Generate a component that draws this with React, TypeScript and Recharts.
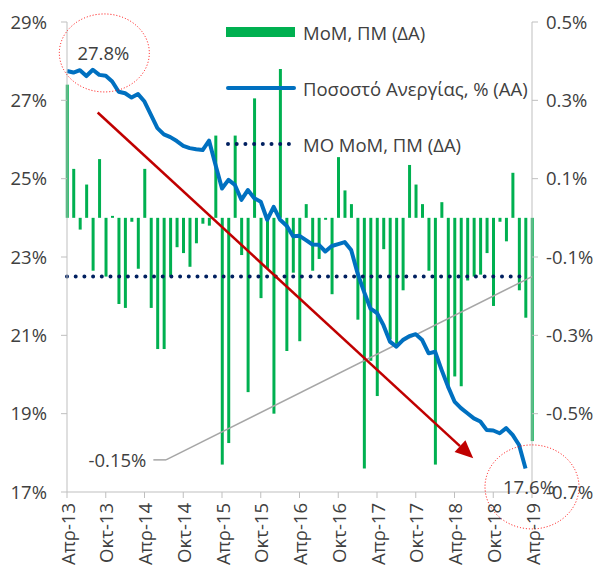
import React from "react";
import {
  ComposedChart,
  Bar,
  Line,
  XAxis,
  YAxis,
  ReferenceLine,
  ReferenceDot,
  Legend,
} from "recharts";

const FONT = "'Open Sans', sans-serif";
const FS = 18.5;
const TEXT = "#404040";
const GREEN = "#00b050";
const BLUE = "#0070c0";
const NAVY = "#002060";

// x axis labels, one every 6 months
const TICK_LABELS = [
  "Απρ-13", "Οκτ-13", "Απρ-14", "Οκτ-14", "Απρ-15", "Οκτ-15", "Απρ-16",
  "Οκτ-16", "Απρ-17", "Οκτ-17", "Απρ-18", "Οκτ-18", "Απρ-19",
];

// MoM change, pp (right axis), Apr-13 .. Apr-19
const MOM = [
  0.34, 0.125, -0.03, 0.085, -0.135, 0.15, -0.15, 0.005, -0.22, -0.23, -0.01, -0.13,
  0.125, -0.23, -0.335, -0.335, -0.15, -0.075, -0.09, -0.125, -0.065, -0.015, -0.02, 0.21,
  -0.63, -0.575, 0.21, -0.095, -0.445, 0.305, -0.205, -0.13, -0.5, 0.38, -0.34, -0.14,
  -0.315, 0.035, -0.135, -0.105, -0.005, -0.195, 0.155, 0.07, 0.035, -0.26, -0.64, -0.365,
  -0.455, -0.08, -0.31, -0.33, -0.185, 0.135, 0.085, 0.035, -0.135, -0.63, 0.04, -0.435,
  -0.405, -0.43, -0.16, -0.15, -0.145, -0.09, -0.225, -0.01, -0.06, 0.115, -0.185, -0.255,
  -0.57,
];

// unemployment rate, % (left axis)
const RATE = [
  27.75, 27.71, 27.77, 27.62, 27.78, 27.65, 27.63, 27.48, 27.22, 27.18, 27.07, 27.16,
  26.97, 26.63, 26.29, 26.13, 26.06, 25.96, 25.84, 25.78, 25.75, 25.73, 25.97, 25.35,
  24.75, 24.97, 24.84, 24.46, 24.71, 24.5, 24.41, 23.95, 24.28, 23.95, 23.8, 23.53,
  23.54, 23.43, 23.32, 23.31, 23.14, 23.28, 23.33, 23.38, 23.18, 22.58, 22.11, 21.68,
  21.57, 21.26, 20.84, 20.71, 20.88, 20.98, 21.03, 20.88, 20.54, 20.58, 20.12, 19.69,
  19.31, 19.14, 19.01, 18.88, 18.8, 18.58, 18.57, 18.5, 18.63, 18.46, 18.2, 17.6,
];

const AVG_MOM = -0.15;
const LEFT_TICKS = [17, 19, 21, 23, 25, 27, 29];
const RIGHT_TICKS = [-0.7, -0.5, -0.3, -0.1, 0.1, 0.3, 0.5];

const data = MOM.map((m, i) => ({
  i,
  mom: m,
  rate: i < RATE.length ? RATE[i] : null,
}));

const XTick = (props: any) => {
  const { x, y, payload } = props;
  return (
    <text
      x={x}
      y={y}
      transform={`rotate(-90 ${x} ${y})`}
      textAnchor="end"
      dominantBaseline="central"
      fill={TEXT}
      fontSize={FS}
      fontFamily={FONT}
    >
      {TICK_LABELS[Math.round(payload.value / 6)]}
    </text>
  );
};

const Arrow = (props: any) => {
  const { x1, y1, x2, y2 } = props;
  const len = Math.hypot(x2 - x1, y2 - y1);
  const ux = (x2 - x1) / len;
  const uy = (y2 - y1) / len;
  const hl = 18;
  const hw = 8;
  const bx = x2 - ux * hl;
  const by = y2 - uy * hl;
  return (
    <g>
      <line x1={x1} y1={y1} x2={bx} y2={by} stroke="#c00000" strokeWidth={2.5} />
      <polygon
        points={`${x2},${y2} ${bx - uy * hw},${by + ux * hw} ${bx + uy * hw},${by - ux * hw}`}
        fill="#c00000"
      />
    </g>
  );
};

const Callout = (props: any) => {
  const { x1, y1, x2, y2 } = props;
  return (
    <g>
      <line x1={x1} y1={y1} x2={x2} y2={y2} stroke="#a6a6a6" strokeWidth={1.5} />
      <text
        x={x1 - 7}
        y={y1}
        textAnchor="end"
        dominantBaseline="central"
        fill={TEXT}
        fontSize={FS}
        fontFamily={FONT}
      >
        -0.15%
      </text>
    </g>
  );
};

const ellipse = (label: string, rx: number, ry: number, dx: number) => (props: any) => (
  <g>
    <ellipse
      cx={props.cx}
      cy={props.cy}
      rx={rx}
      ry={ry}
      fill="none"
      stroke="#ff0000"
      strokeWidth={1}
      strokeDasharray="1 2"
    />
    <text
      x={props.cx + dx}
      y={props.cy}
      textAnchor="middle"
      dominantBaseline="central"
      fill={TEXT}
      fontSize={FS}
      fontFamily={FONT}
    >
      {label}
    </text>
  </g>
);

const LegendBox = () => (
  <div style={{ fontFamily: FONT, fontSize: FS, color: TEXT, whiteSpace: "nowrap" }}>
    <div style={{ display: "flex", alignItems: "center", height: 56 }}>
      <svg width={70} height={14}>
        <rect x={0} y={2} width={69} height={10} fill={GREEN} />
      </svg>
      <span style={{ marginLeft: 7 }}>MoM, ΠΜ (ΔΑ)</span>
    </div>
    <div style={{ display: "flex", alignItems: "center", height: 56 }}>
      <svg width={70} height={14}>
        <line x1={2} y1={7} x2={68} y2={7} stroke={BLUE} strokeWidth={4} strokeLinecap="round" />
      </svg>
      <span style={{ marginLeft: 7 }}>Ποσοστό Ανεργίας, % (ΑΑ)</span>
    </div>
    <div style={{ display: "flex", alignItems: "center", height: 56 }}>
      <svg width={70} height={14}>
        <line
          x1={2}
          y1={7}
          x2={64}
          y2={7}
          stroke={NAVY}
          strokeWidth={4}
          strokeLinecap="round"
          strokeDasharray="0 8.7"
        />
      </svg>
      <span style={{ marginLeft: 7 }}>ΜΟ MoM, ΠΜ (ΔΑ)</span>
    </div>
  </div>
);

const tickStyle = { fill: TEXT, fontSize: FS, fontFamily: FONT };

export default function App() {
  return (
    <div style={{ position: "absolute", left: 0, top: 0, background: "#fff" }}>
      <ComposedChart
        width={607}
        height={568}
        data={data}
        margin={{ top: 22, right: 0, bottom: 0, left: 0 }}
      >
        <XAxis
          dataKey="i"
          type="number"
          domain={[0, 72]}
          ticks={TICK_LABELS.map((_, k) => k * 6)}
          interval={0}
          height={76}
          tickSize={6}
          tickMargin={5}
          tick={<XTick />}
          axisLine={{ stroke: "#bfbfbf" }}
          tickLine={{ stroke: "#bfbfbf" }}
        />
        <YAxis
          yAxisId="left"
          domain={[17, 29]}
          ticks={LEFT_TICKS}
          interval={0}
          width={67}
          tickSize={6}
          tickMargin={14}
          tickFormatter={(v: number) => `${v}%`}
          tick={tickStyle}
          axisLine={{ stroke: "#bfbfbf" }}
          tickLine={{ stroke: "#bfbfbf" }}
        />
        <YAxis
          yAxisId="right"
          orientation="right"
          domain={[-0.7, 0.5]}
          ticks={RIGHT_TICKS}
          interval={0}
          width={75}
          tickSize={6}
          tickMargin={8}
          tickFormatter={(v: number) => `${v.toFixed(1)}%`}
          tick={{ ...tickStyle, textAnchor: "start" }}
          axisLine={{ stroke: "#bfbfbf" }}
          tickLine={{ stroke: "#bfbfbf" }}
        />
        <Legend
          layout="vertical"
          align="center"
          verticalAlign="middle"
          wrapperStyle={{ top: 4, left: 226, width: 340 }}
          content={<LegendBox />}
        />
        <Bar
          dataKey="mom"
          yAxisId="right"
          fill={GREEN}
          barSize={3}
          isAnimationActive={false}
        />
        <ReferenceLine
          yAxisId="right"
          segment={[
            { x: 0, y: AVG_MOM },
            { x: 71, y: AVG_MOM },
          ]}
          stroke={NAVY}
          strokeWidth={4}
          strokeLinecap="round"
          strokeDasharray="0 8.7"
        />
        <ReferenceLine
          yAxisId="right"
          segment={[
            { x: 15.33, y: -0.618 },
            { x: 72, y: AVG_MOM },
          ]}
          stroke="#a6a6a6"
          strokeWidth={1.5}
        />
        <ReferenceLine
          yAxisId="right"
          segment={[
            { x: 13.37, y: -0.618 },
            { x: 15.33, y: -0.618 },
          ]}
          shape={<Callout />}
        />
        <Line
          dataKey="rate"
          yAxisId="left"
          stroke={BLUE}
          strokeWidth={4}
          strokeLinejoin="round"
          dot={false}
          activeDot={false}
          isAnimationActive={false}
        />
        <ReferenceLine
          yAxisId="left"
          segment={[
            { x: 4.75, y: 26.69 },
            { x: 62.9, y: 17.86 },
          ]}
          shape={<Arrow />}
        />
        <ReferenceDot
          yAxisId="left"
          x={5.78}
          y={28.21}
          r={1}
          ifOverflow="visible"
          shape={ellipse("27.8%", 45, 39, -1)}
        />
        <ReferenceDot
          yAxisId="left"
          x={72}
          y={17.13}
          r={1}
          ifOverflow="visible"
          shape={ellipse("17.6%", 47, 42, -3)}
        />
      </ComposedChart>
    </div>
  );
}
